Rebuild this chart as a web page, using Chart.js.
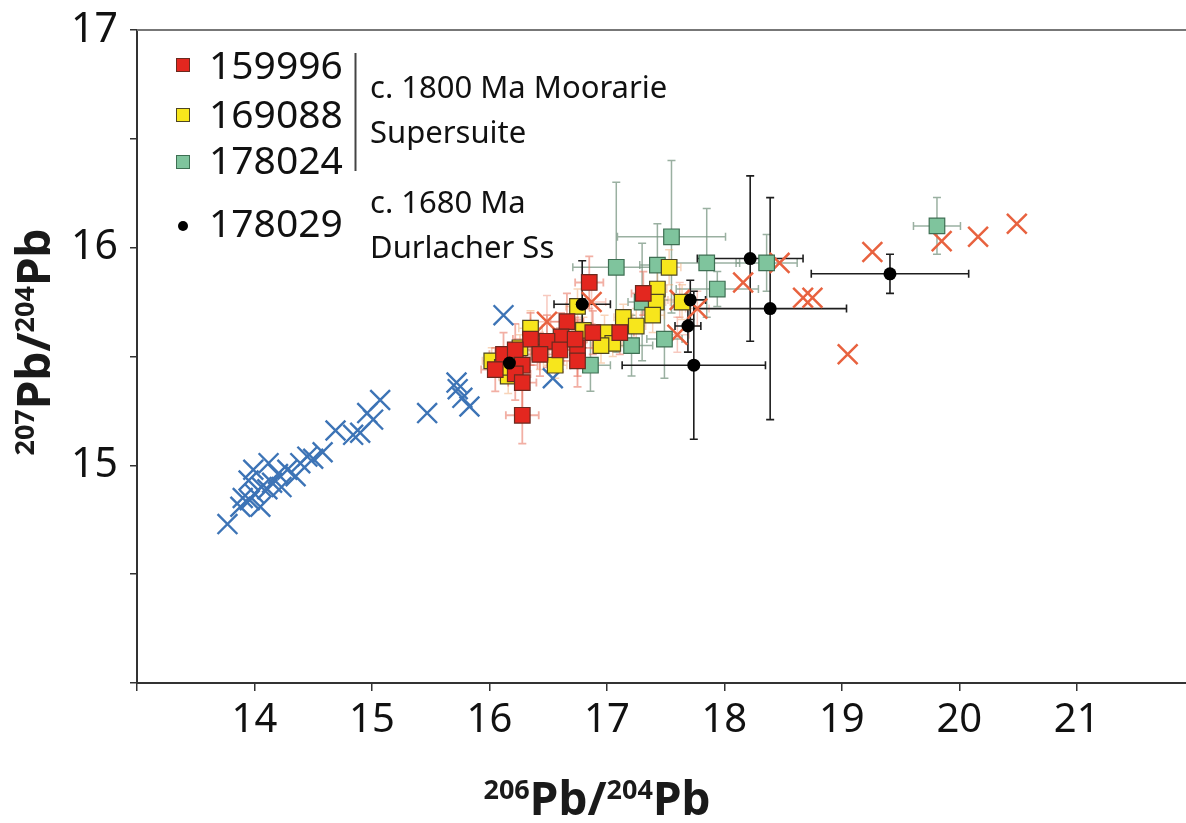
<!DOCTYPE html>
<html>
<head>
<meta charset="utf-8">
<title>Pb isotopes</title>
<script src="https://cdn.jsdelivr.net/npm/chart.js@4.4.1/dist/chart.umd.min.js"></script>
<style>
  html, body { margin: 0; padding: 0; background: #fff; }
  #wrap { width: 1186px; height: 823px; }
</style>
</head>
<body>
<div id="wrap"><canvas id="pb-chart" width="1186" height="823"></canvas></div>
<script>
// 206Pb/204Pb vs 207Pb/204Pb

const FONT = '"Noto Sans", "Open Sans", sans-serif';

// axis ticks
const xTicks = [13, 14, 15, 16, 17, 18, 19, 20, 21];
const yTicks = [14, 14.5, 15, 15.5, 16, 16.5, 17];

// reference field, blue crosses
const blueX = [13.77, 13.88, 13.90, 13.96, 14.00, 14.05, 14.06, 14.11, 14.12, 14.15, 14.20, 14.23,
               14.28, 14.35, 14.39, 14.45, 14.50, 14.58, 14.69, 14.84, 14.90, 14.96, 15.01, 15.07,
               15.47, 15.72, 15.77, 15.83, 15.73, 16.12, 16.54, 13.95, 13.99];
const blueY = [14.73, 14.81, 14.85, 14.84, 14.87, 14.81, 14.90, 14.89, 15.01, 14.92, 14.96, 14.90,
               14.98, 14.95, 15.01, 15.04, 15.03, 15.06, 15.16, 15.14, 15.15, 15.24, 15.21, 15.30,
               15.24, 15.38, 15.31, 15.27, 15.35, 15.69, 15.40, 14.93, 14.98];

// reference field, orange crosses
const orangeX = [16.49, 16.87, 17.62, 17.77, 17.60, 18.16, 18.47, 18.67, 18.75, 19.05, 19.26, 19.85, 20.16, 20.49];
const orangeY = [15.66, 15.75, 15.76, 15.72, 15.60, 15.84, 15.93, 15.77, 15.77, 15.51, 15.98, 16.03, 16.05, 16.11];
const orangeXErr = [0.14, 0.12, 0.1, 0.1, 0.1, 0, 0, 0, 0, 0, 0, 0, 0, 0];
const orangeYErr = [0.12, 0.1, 0.08, 0.08, 0.08, 0, 0, 0, 0, 0, 0, 0, 0, 0];

// 159996
const redX = [16.85, 17.31, 16.66, 16.61, 16.88, 17.11, 16.35, 16.49, 16.75, 16.60, 16.12, 16.22,
              16.75, 16.28, 16.05, 16.22, 16.28, 16.28, 16.73, 16.43];
const redY = [15.84, 15.79, 15.66, 15.59, 15.61, 15.61, 15.58, 15.57, 15.54, 15.53, 15.51, 15.53,
              15.48, 15.46, 15.44, 15.42, 15.38, 15.23, 15.58, 15.51];
const redXErr = [0.12, 0.1, 0.14, 0.12, 0.1, 0.12, 0.15, 0.12, 0.14, 0.12, 0.12, 0.14,
                 0.12, 0.13, 0.12, 0.13, 0.12, 0.14, 0.1, 0.12];
const redYErr = [0.12, 0.1, 0.13, 0.11, 0.1, 0.1, 0.12, 0.12, 0.13, 0.1, 0.1, 0.12,
                 0.12, 0.11, 0.1, 0.12, 0.12, 0.13, 0.1, 0.1];

// 169088
const yellowX = [17.53, 17.43, 17.42, 17.39, 17.14, 17.25, 16.98, 17.05, 16.95, 16.80, 16.35, 16.02,
                 16.16, 16.56, 16.43, 16.75, 17.64, 16.11, 16.26];
const yellowY = [15.91, 15.81, 15.75, 15.69, 15.68, 15.64, 15.61, 15.56, 15.55, 15.62, 15.63, 15.48,
                 15.41, 15.46, 15.52, 15.73, 15.75, 15.45, 15.54];
const yellowXErr = [0.1, 0.08, 0.08, 0.1, 0.08, 0.08, 0.1, 0.08, 0.08, 0.1, 0.1, 0.08,
                    0.08, 0.1, 0.08, 0.1, 0.1, 0.08, 0.08];
const yellowYErr = [0.08, 0.08, 0.06, 0.08, 0.06, 0.08, 0.08, 0.06, 0.08, 0.06, 0.08, 0.06,
                    0.08, 0.06, 0.08, 0.08, 0.08, 0.06, 0.06];

// 178024
const greenX = [17.55, 17.08, 17.43, 17.85, 18.36, 17.94, 19.81, 17.49, 17.21, 16.86, 17.30];
const greenY = [16.05, 15.91, 15.92, 15.93, 15.93, 15.81, 16.10, 15.58, 15.55, 15.46, 15.75];
const greenXErr = [0.46, 0.37, 0.15, 0.28, 0.26, 0.35, 0.2, 0.15, 0.18, 0.17, 0.12];
const greenYErr = [0.35, 0.39, 0.19, 0.25, 0.13, 0.08, 0.13, 0.18, 0.14, 0.12, 0.27];

// 178029
const blackX = [18.22, 18.39, 19.41, 17.71, 17.69, 17.74, 16.79, 16.17];
const blackY = [15.95, 15.72, 15.88, 15.76, 15.64, 15.46, 15.74, 15.47];
const blackXErr = [0.45, 0.65, 0.67, 0.13, 0.11, 0.61, 0.24, 0.05];
const blackYErr = [0.38, 0.51, 0.09, 0.09, 0.12, 0.34, 0.2, 0.05];

// legend entries
const legendNames = ['159996', '169088', '178024', '178029'];
const groupLabels = [['c. 1800 Ma Moorarie', 'Supersuite'], ['c. 1680 Ma', 'Durlacher Ss']];

function pts(xs, ys) {
    return xs.map((x, i) => ({ x: x, y: ys[i] }));
}

// error bars drawn under the markers
const errorBars = {
    id: 'errorBars',
    beforeDatasetsDraw(chart) {
        const ctx = chart.ctx;
        const sx = chart.scales.x, sy = chart.scales.y;
        const cap = 4;
        ctx.save();
        chart.data.datasets.slice().reverse().forEach(ds => {
            if (!ds.xErr) return;
            ctx.strokeStyle = ds.errColor;
            ctx.lineWidth = ds.errWidth;
            ds.data.forEach((p, i) => {
                const px = sx.getPixelForValue(p.x);
                const py = sy.getPixelForValue(p.y);
                const ex = ds.xErr[i], ey = ds.yErr[i];
                ctx.beginPath();
                if (ex) {
                    const x0 = sx.getPixelForValue(p.x - ex), x1 = sx.getPixelForValue(p.x + ex);
                    ctx.moveTo(x0, py); ctx.lineTo(x1, py);
                    ctx.moveTo(x0, py - cap); ctx.lineTo(x0, py + cap);
                    ctx.moveTo(x1, py - cap); ctx.lineTo(x1, py + cap);
                }
                if (ey) {
                    const y0 = sy.getPixelForValue(p.y - ey), y1 = sy.getPixelForValue(p.y + ey);
                    ctx.moveTo(px, y0); ctx.lineTo(px, y1);
                    ctx.moveTo(px - cap, y0); ctx.lineTo(px + cap, y0);
                    ctx.moveTo(px - cap, y1); ctx.lineTo(px + cap, y1);
                }
                ctx.stroke();
            });
        });
        ctx.restore();
    }
};

// isotope ratio label with superscript mass numbers
function drawRatio(ctx, top, bottom, cx, baseline) {
    const big = 'bold 46px ' + FONT, small = 'bold 27px ' + FONT;
    const parts = [[top, true], ['Pb/', false], [bottom, true], ['Pb', false]];
    let w = 0;
    parts.forEach(([t, sup]) => { ctx.font = sup ? small : big; w += ctx.measureText(t).width; });
    let xx = cx - w / 2;
    ctx.textAlign = 'left';
    ctx.textBaseline = 'alphabetic';
    parts.forEach(([t, sup]) => {
        ctx.font = sup ? small : big;
        ctx.fillText(t, xx, sup ? baseline - 16 : baseline);
        xx += ctx.measureText(t).width;
    });
}

const decorations = {
    id: 'decorations',
    afterDraw(chart) {
        const ctx = chart.ctx;
        const area = chart.chartArea;
        const ds = chart.data.datasets;
        ctx.save();

        // top frame line
        ctx.strokeStyle = '#777';
        ctx.lineWidth = 2;
        ctx.beginPath();
        ctx.moveTo(area.left, area.top);
        ctx.lineTo(area.right, area.top);
        ctx.stroke();

        // axis titles
        ctx.fillStyle = '#1a1a1a';
        drawRatio(ctx, '206', '204', 597, 815);
        ctx.save();
        ctx.translate(50, 342);
        ctx.rotate(-Math.PI / 2);
        drawRatio(ctx, '207', '204', 0, 0);
        ctx.restore();

        // legend
        const rows = [
            { ds: ds[1], y: 65, base: 79 },
            { ds: ds[2], y: 115, base: 128 },
            { ds: ds[3], y: 162, base: 174 },
            { ds: ds[0], y: 226, base: 237 }
        ];
        rows.forEach((r, i) => {
            if (r.ds.pointStyle === 'circle') {
                ctx.fillStyle = r.ds.backgroundColor;
                ctx.beginPath();
                ctx.arc(183, r.y, 5, 0, Math.PI * 2);
                ctx.fill();
            } else {
                ctx.fillStyle = r.ds.backgroundColor;
                ctx.strokeStyle = r.ds.borderColor;
                ctx.lineWidth = 1;
                ctx.fillRect(176.5, r.y - 6.5, 13, 13);
                ctx.strokeRect(176.5, r.y - 6.5, 13, 13);
            }
            ctx.fillStyle = '#111';
            ctx.font = '39px ' + FONT;
            ctx.textAlign = 'left';
            ctx.textBaseline = 'alphabetic';
            ctx.fillText(legendNames[i], 209, r.base);
        });

        ctx.strokeStyle = '#444';
        ctx.lineWidth = 2;
        ctx.beginPath();
        ctx.moveTo(355.5, 53);
        ctx.lineTo(355.5, 171);
        ctx.stroke();

        ctx.fillStyle = '#111';
        ctx.font = '31px ' + FONT;
        ctx.fillText(groupLabels[0][0], 370, 98);
        ctx.fillText(groupLabels[0][1], 370, 143);
        ctx.fillText(groupLabels[1][0], 370, 213);
        ctx.fillText(groupLabels[1][1], 370, 258);

        ctx.restore();
    }
};

new Chart(document.getElementById('pb-chart'), {
    type: 'scatter',
    data: {
        datasets: [
            {
                label: '178029',
                data: pts(blackX, blackY),
                xErr: blackXErr, yErr: blackYErr,
                errColor: '#1e1e1e', errWidth: 1.6,
                pointStyle: 'circle', pointRadius: 6.5,
                backgroundColor: '#000', borderColor: '#000', borderWidth: 0
            },
            {
                label: '159996',
                data: pts(redX, redY),
                xErr: redXErr, yErr: redYErr,
                errColor: 'rgba(232, 110, 90, 0.55)', errWidth: 1.8,
                pointStyle: 'rect', pointRadius: 11,
                backgroundColor: '#e3271f', borderColor: '#6a2a1f', borderWidth: 1.2
            },
            {
                label: '169088',
                data: pts(yellowX, yellowY),
                xErr: yellowXErr, yErr: yellowYErr,
                errColor: 'rgba(240, 160, 100, 0.45)', errWidth: 1.5,
                pointStyle: 'rect', pointRadius: 11,
                backgroundColor: '#f7e61c', borderColor: '#4e4522', borderWidth: 1.2
            },
            {
                label: '178024',
                data: pts(greenX, greenY),
                xErr: greenXErr, yErr: greenYErr,
                errColor: 'rgba(120, 150, 130, 0.75)', errWidth: 1.5,
                pointStyle: 'rect', pointRadius: 11,
                backgroundColor: '#7fc49d', borderColor: '#3e6f53', borderWidth: 1.2
            },
            {
                label: 'orange field',
                data: pts(orangeX, orangeY),
                xErr: orangeXErr, yErr: orangeYErr,
                errColor: 'rgba(235, 120, 95, 0.4)', errWidth: 1.5,
                pointStyle: 'crossRot', pointRadius: 14,
                borderColor: '#e8623f', borderWidth: 2.5
            },
            {
                label: 'blue field',
                data: pts(blueX, blueY),
                pointStyle: 'crossRot', pointRadius: 14,
                borderColor: '#3d74b6', borderWidth: 2.4
            }
        ]
    },
    options: {
        responsive: false,
        animation: false,
        events: [],
        layout: { autoPadding: false, padding: { top: 30, right: 0, left: 0, bottom: 0 } },
        plugins: {
            legend: { display: false },
            tooltip: { enabled: false }
        },
        scales: {
            x: {
                type: 'linear',
                min: 13,
                max: 21.93,
                afterBuildTicks: s => { s.ticks = xTicks.map(v => ({ value: v })); },
                afterFit: s => {
                    s.height = 140;
                    s.paddingLeft = 0;
                    s.paddingRight = 0;
                },
                grid: { drawOnChartArea: false, drawTicks: true, tickLength: 8, color: '#333', lineWidth: 1.5 },
                border: { display: true, color: '#333', width: 2 },
                ticks: {
                    autoSkip: false,
                    maxRotation: 0,
                    padding: 6,
                    color: '#111',
                    font: { family: FONT, size: 40 },
                    callback: v => (v === 13 ? '' : String(v))
                }
            },
            y: {
                type: 'linear',
                min: 14,
                max: 17,
                afterBuildTicks: s => { s.ticks = yTicks.map(v => ({ value: v })); },
                afterFit: s => {
                    s.width = 137;
                    s.paddingTop = 0;
                    s.paddingBottom = 0;
                },
                grid: { drawOnChartArea: false, drawTicks: true, tickLength: 7, color: '#333', lineWidth: 1.5 },
                border: { display: true, color: '#333', width: 2 },
                ticks: {
                    autoSkip: false,
                    padding: 12,
                    color: '#111',
                    font: { family: FONT, size: 41 },
                    callback: v => (Number.isInteger(v) && v > 14 ? String(v) : '')
                }
            }
        }
    },
    plugins: [errorBars, decorations]
});
</script>
</body>
</html>
